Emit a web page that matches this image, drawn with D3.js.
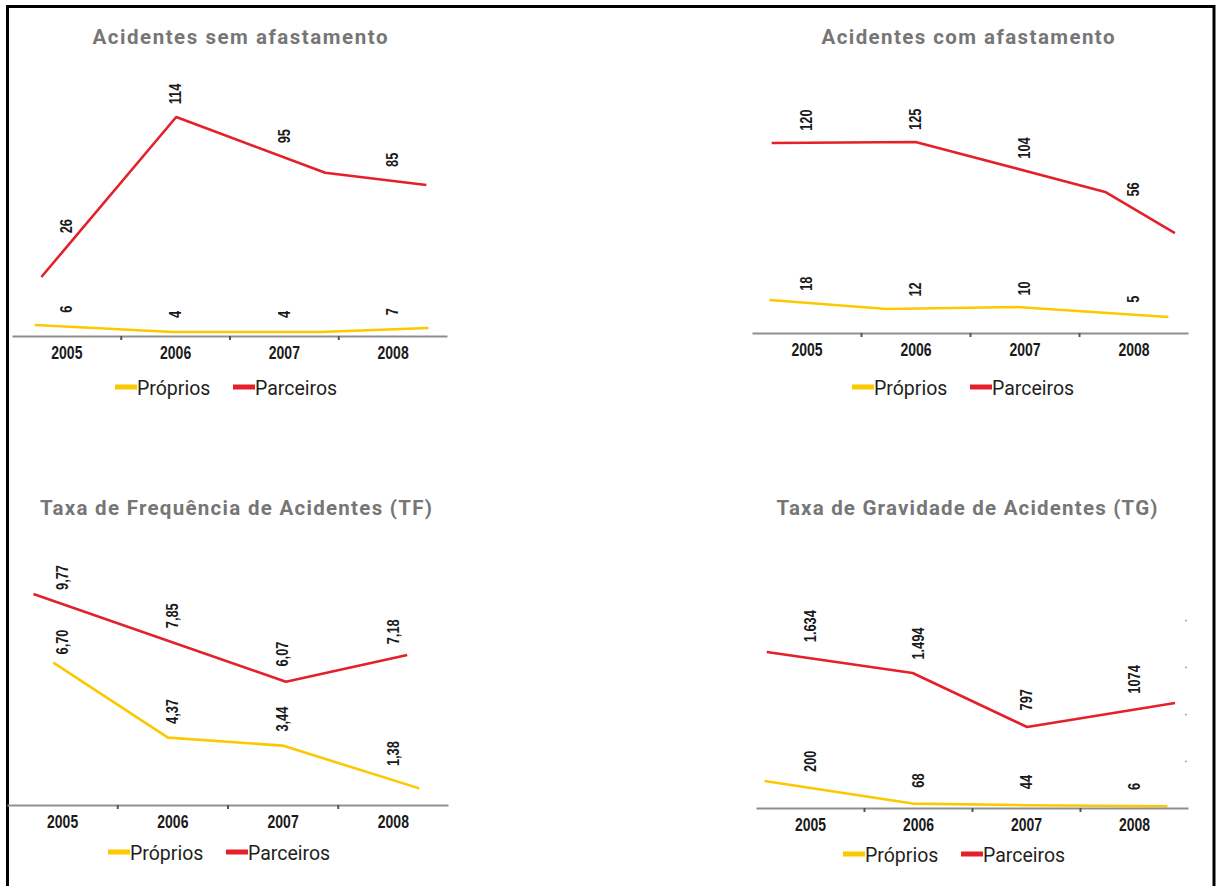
<!DOCTYPE html>
<html>
<head>
<meta charset="utf-8">
<script src="https://cdn.jsdelivr.net/npm/d3@7"></script>
<style>
  body { margin: 0; background: #fff; }
  svg { display: block; }
</style>
</head>
<body>
<div id="chart"></div>
<script>
// DATA
const years = [2005, 2006, 2007, 2008];
const seriesNames = ["Próprios", "Parceiros"];
const seriesColors = ["#fcc800", "#e4202a"];

// Acidentes sem afastamento
const semTitle = "Acidentes sem afastamento";
const semPropriosLabels = ["6", "4", "4", "7"];
const semParceirosLabels = ["26", "114", "95", "85"];
// the drawn lines do not sit on the category centres, so they keep their own x (in years)
const semPropriosLineX = [2004.71, 2005.98, 2007.33, 2008.33];
const semPropriosLineY = [5.7, 2.1, 2.1, 4.2];
const semParceirosLineX = [2004.77, 2006.01, 2007.38, 2008.31];
const semParceirosLineY = [30.7, 114, 85, 78.6];

// Acidentes com afastamento
const comTitle = "Acidentes com afastamento";
const comPropriosLabels = ["18", "12", "10", "5"];
const comParceirosLabels = ["120", "125", "104", "56"];
const comPropriosLineX = [2004.66, 2005.74, 2006.93, 2008.32];
const comPropriosLineY = [21.6, 15.7, 17, 10.5];
const comParceirosLineX = [2004.68, 2006.0, 2007.74, 2008.38];
const comParceirosLineY = [124.3, 125, 92.3, 65.4];

// Taxa de Frequencia (TF)
const tfTitle = "Taxa de Frequência de Acidentes (TF)";
const tfPropriosLabels = ["6,70", "4,37", "3,44", "1,38"];
const tfParceirosLabels = ["9,77", "7,85", "6,07", "7,18"];
const tfPropriosLineX = [2004.92, 2005.96, 2007.0, 2008.24];
const tfPropriosLineY = [6.59, 3.12, 2.75, 0.77];
const tfParceirosLineX = [2004.74, 2007.03, 2008.13];
const tfParceirosLineY = [9.77, 5.71, 6.94];

// Taxa de Gravidade (TG)
const tgTitle = "Taxa de Gravidade de Acidentes (TG)";
const tgPropriosLabels = ["200", "68", "44", "6"];
const tgParceirosLabels = ["1.634", "1.494", "797", "1074"];
const tgPropriosLineX = [2004.58, 2005.95, 2007.01, 2008.31];
const tgPropriosLineY = [287, 47, 30, 18];
const tgParceirosLineX = [2004.6, 2005.95, 2007.01, 2008.38];
const tgParceirosLineY = [1660, 1436, 862, 1117];
const tgRightTicks = [500, 1000, 1500, 2000];

// LAYOUT
const panels = [
  { title: semTitle, titleX: 240, titleY: 44, titleW: 295,
    x0: 12, x1: 447, axisY: 336, yMax: 120, yTop: 105.5, gap: 14,
    legendX: 115, legendY: 387,
    series: [
      { labels: semPropriosLabels, lx: semPropriosLineX, ly: semPropriosLineY },
      { labels: semParceirosLabels, lx: semParceirosLineX, ly: semParceirosLineY }] },
  { title: comTitle, titleX: 968, titleY: 44, titleW: 293,
    x0: 752, x1: 1188, axisY: 333, yMax: 140, yTop: 119, gap: 12,
    legendX: 852, legendY: 387,
    series: [
      { labels: comPropriosLabels, lx: comPropriosLineX, ly: comPropriosLineY },
      { labels: comParceirosLabels, lx: comParceirosLineX, ly: comParceirosLineY }] },
  { title: tfTitle, titleX: 236, titleY: 515, titleW: 392,
    x0: 7, x1: 448, axisY: 805, yMax: 10, yTop: 589, gap: 14,
    legendX: 108, legendY: 852,
    series: [
      { labels: tfPropriosLabels, lx: tfPropriosLineX, ly: tfPropriosLineY },
      { labels: tfParceirosLabels, lx: tfParceirosLineX, ly: tfParceirosLineY }] },
  { title: tgTitle, titleX: 967, titleY: 515, titleW: 381,
    x0: 756, x1: 1188, axisY: 808, yMax: 2000, yTop: 620, gap: 16,
    legendX: 843, legendY: 854, rightTicks: tgRightTicks,
    series: [
      { labels: tgPropriosLabels, lx: tgPropriosLineX, ly: tgPropriosLineY },
      { labels: tgParceirosLabels, lx: tgParceirosLineX, ly: tgParceirosLineY }] }
];

const width = 1218, height = 886;
// no condensed face installed, so the bold digits get squeezed horizontally
const numFont = "'Liberation Sans', Arial, sans-serif";
const squeeze = 0.8;

const svg = d3.select("#chart").append("svg")
  .attr("width", width)
  .attr("height", height);

svg.append("rect").attr("width", width).attr("height", height).attr("fill", "#fff");

// black frame, open at the bottom edge of the picture
svg.append("rect")
  .attr("x", 7.5).attr("y", 6.5)
  .attr("width", 1206.5).attr("height", 920)
  .attr("fill", "none")
  .attr("stroke", "#000")
  .attr("stroke-width", 3);

panels.forEach(function (p) {
  const g = svg.append("g");

  // scales: x in years (band edges at half years), y linear from 0
  const x = d3.scaleLinear().domain([2004.5, 2008.5]).range([p.x0, p.x1]);
  const y = d3.scaleLinear().domain([0, p.yMax]).range([p.axisY, p.yTop]);

  //Title
  g.append("text")
    .attr("x", p.titleX)
    .attr("y", p.titleY)
    .attr("text-anchor", "middle")
    .attr("textLength", p.titleW)
    .attr("lengthAdjust", "spacing")
    .style("font-family", "Roboto, sans-serif")
    .style("font-weight", "bold")
    .style("font-size", "20.5px")
    .style("fill", "#767676")
    .text(p.title);

  //Right ticks (only on TG)
  if (p.rightTicks) {
    const ra = g.append("g")
      .attr("transform", "translate(" + (p.x1 - 3) + ",0)")
      .call(d3.axisRight(y).tickValues(p.rightTicks).tickSize(2).tickFormat(""));
    ra.select(".domain").remove();
    ra.selectAll(".tick line").attr("stroke", "#aaa").attr("stroke-width", 1.5);
  }

  //Lines
  const line = d3.line().x(d => x(d[0])).y(d => y(d[1]));
  p.series.forEach(function (s, i) {
    g.append("path")
      .datum(d3.zip(s.lx, s.ly))
      .attr("d", line)
      .attr("fill", "none")
      .attr("stroke", seriesColors[i])
      .attr("stroke-width", 2.6)
      .attr("stroke-linejoin", "round");
  });

  //Axis line + ticks between categories
  const ax = g.append("g")
    .attr("transform", "translate(0," + p.axisY + ")")
    .call(d3.axisBottom(x).tickValues([2005.5, 2006.5, 2007.5]).tickSize(4).tickSizeOuter(0).tickFormat(""));
  ax.select(".domain").attr("stroke", "#8f8f8f").attr("stroke-width", 2);
  ax.selectAll(".tick line").attr("stroke", "#555").attr("stroke-width", 2);

  //Year labels
  const yl = g.append("g")
    .attr("transform", "translate(0," + p.axisY + ")")
    .call(d3.axisBottom(x).tickValues(years).tickSize(0).tickPadding(11).tickFormat(d3.format("d")));
  yl.select(".domain").remove();
  yl.selectAll("text")
    .attr("transform", "scale(" + squeeze + ",1)")
    .style("font-family", numFont)
    .style("font-weight", "bold")
    .style("font-size", "17.5px")
    .style("fill", "#1a1a1a");

  //Value labels, rotated, sitting above the drawn line at each category
  p.series.forEach(function (s) {
    const along = d3.scaleLinear().domain(s.lx).range(s.ly).clamp(true);
    g.selectAll(null)
      .data(years)
      .enter()
      .append("text")
      .attr("transform", d => "translate(" + x(d) + "," + (y(along(d)) - p.gap) + ") rotate(-90) scale(" + squeeze + ",1)")
      .attr("dy", "0.36em")
      .attr("text-anchor", "start")
      .style("font-family", numFont)
      .style("font-weight", "bold")
      .style("font-size", "16px")
      .style("fill", "#1a1a1a")
      .text((d, k) => s.labels[k]);
  });

  //Legend
  const lg = g.append("g").attr("transform", "translate(" + p.legendX + "," + p.legendY + ")");
  const offsets = [0, 118];
  seriesNames.forEach(function (name, i) {
    lg.append("rect")
      .attr("x", offsets[i])
      .attr("y", -2.5)
      .attr("width", 22)
      .attr("height", 5)
      .attr("fill", seriesColors[i]);
    lg.append("text")
      .attr("x", offsets[i] + 22)
      .attr("y", 8)
      .style("font-family", "Roboto, sans-serif")
      .style("font-size", "19.5px")
      .style("fill", "#231f20")
      .text(name);
  });
});
</script>
</body>
</html>
